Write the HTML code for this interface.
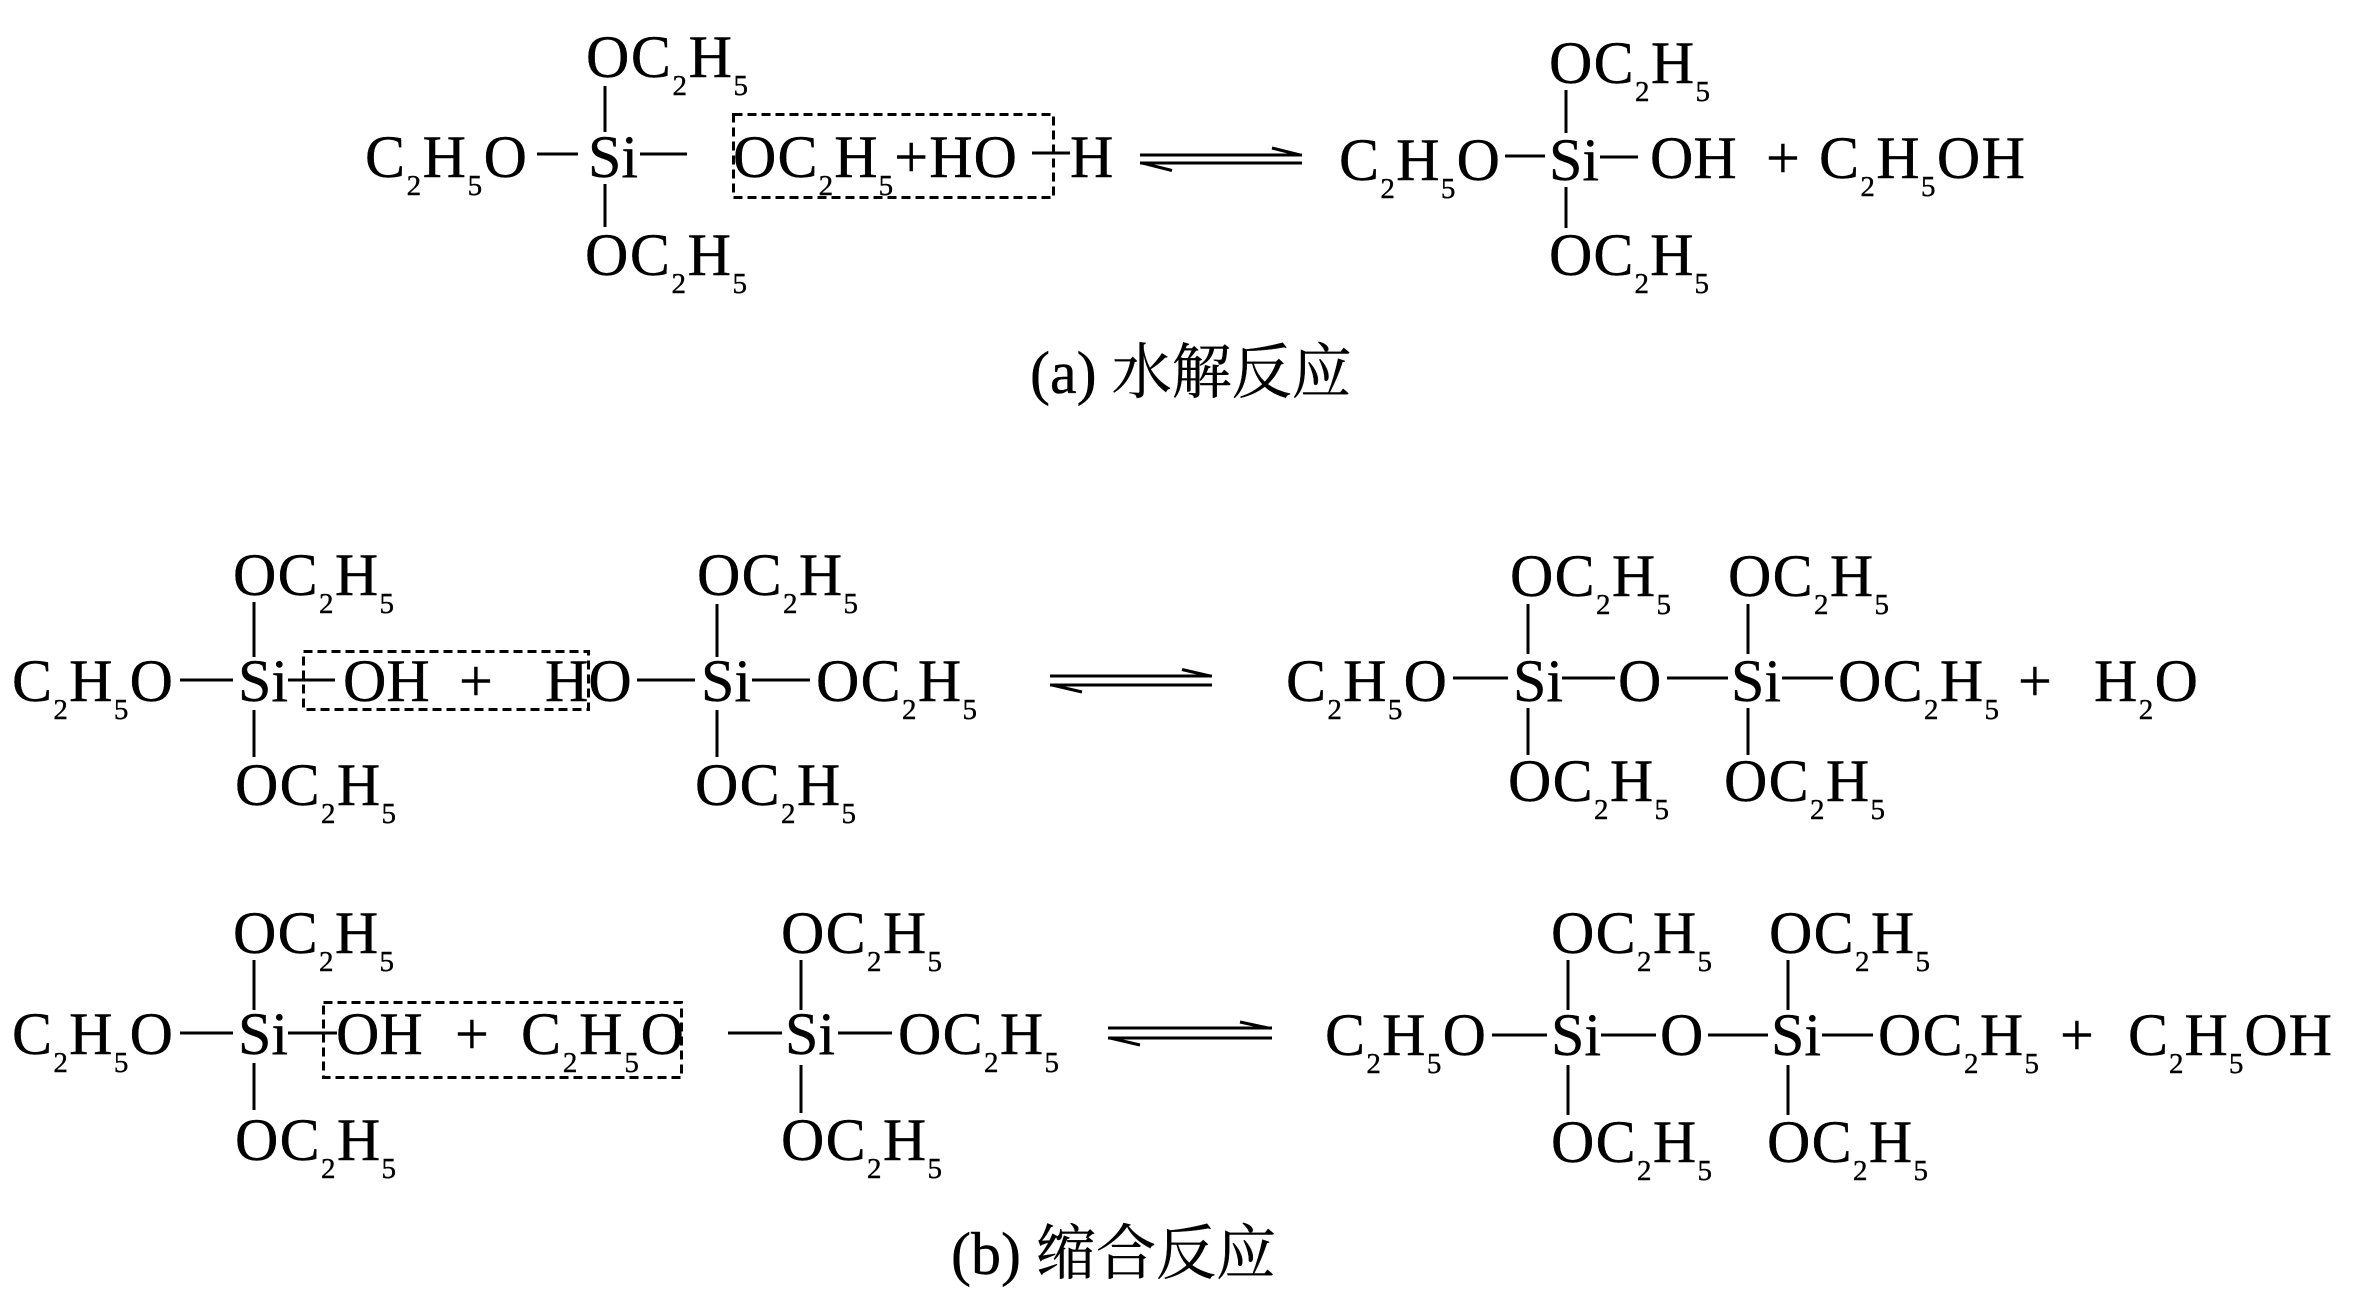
<!DOCTYPE html>
<html>
<head>
<meta charset="utf-8">
<style>
  html,body{margin:0;padding:0;background:#fff;}
  svg{display:block;}
  text{font-family:"Liberation Serif","Times New Roman",serif;font-size:60px;fill:#000;stroke:#000;stroke-width:0.4;}
  .s{font-size:29px;}
  .cap{font-family:"Liberation Serif","Noto Serif CJK SC","Noto Sans CJK SC",serif;font-size:60px;}
  .ln{stroke:#000;stroke-width:3;fill:none;}
  .box{stroke:#000;stroke-width:3;fill:none;stroke-dasharray:9 5;}
</style>
</head>
<body>
<svg width="2363" height="1299" viewBox="0 0 2363 1299" xmlns="http://www.w3.org/2000/svg">
<rect x="0" y="0" width="2363" height="1299" fill="#fff"/>

<!-- ================= (a) Hydrolysis ================= -->
<text x="586" y="77" textLength="162">OC<tspan class="s" dy="18">2</tspan><tspan dy="-18">H</tspan><tspan class="s" dy="18">5</tspan></text>
<path class="ln" d="M605 86V132"/>
<text x="365" y="177" textLength="162">C<tspan class="s" dy="18">2</tspan><tspan dy="-18">H</tspan><tspan class="s" dy="18">5</tspan><tspan dy="-18">O</tspan></text>
<path class="ln" d="M537 154H578"/>
<text x="588" y="177">Si</text>
<path class="ln" d="M640 154H687"/>
<path class="ln" d="M605 184V227"/>
<text x="585" y="275" textLength="162">OC<tspan class="s" dy="18">2</tspan><tspan dy="-18">H</tspan><tspan class="s" dy="18">5</tspan></text>
<rect class="box" x="733.5" y="114.5" width="320" height="83"/>
<text x="733" y="177" textLength="284">OC<tspan class="s" dy="18">2</tspan><tspan dy="-18">H</tspan><tspan class="s" dy="18">5</tspan><tspan dy="-18">+HO</tspan></text>
<path class="ln" d="M1032 153H1070"/>
<text x="1070" y="177">H</text>

<path class="ln" d="M1140 155H1302M1140 163H1302"/>
<path class="ln" stroke-width="3" d="M1272 148L1300 155M1142 163L1172 170.5"/>

<text x="1549" y="83" textLength="161">OC<tspan class="s" dy="18">2</tspan><tspan dy="-18">H</tspan><tspan class="s" dy="18">5</tspan></text>
<path class="ln" d="M1566 90V133"/>
<text x="1339" y="180" textLength="161">C<tspan class="s" dy="18">2</tspan><tspan dy="-18">H</tspan><tspan class="s" dy="18">5</tspan><tspan dy="-18">O</tspan></text>
<path class="ln" d="M1505 156H1545"/>
<text x="1549" y="180">Si</text>
<path class="ln" d="M1600 157H1638"/>
<text x="1650" y="178">OH</text>
<path class="ln" d="M1566 187V228"/>
<text x="1549" y="275" textLength="160">OC<tspan class="s" dy="18">2</tspan><tspan dy="-18">H</tspan><tspan class="s" dy="18">5</tspan></text>
<text x="1766" y="178">+</text>
<text x="1819" y="178" textLength="206">C<tspan class="s" dy="18">2</tspan><tspan dy="-18">H</tspan><tspan class="s" dy="18">5</tspan><tspan dy="-18">OH</tspan></text>

<text class="cap" x="1030" y="393">(a) 水解反应</text>

<!-- ================= (b) row 1 ================= -->
<text x="12" y="701" textLength="161">C<tspan class="s" dy="18">2</tspan><tspan dy="-18">H</tspan><tspan class="s" dy="18">5</tspan><tspan dy="-18">O</tspan></text>
<path class="ln" d="M180 680H233"/>
<text x="238" y="701">Si</text>
<path class="ln" d="M254 602V657M254 710V757"/>
<text x="233" y="595" textLength="161">OC<tspan class="s" dy="18">2</tspan><tspan dy="-18">H</tspan><tspan class="s" dy="18">5</tspan></text>
<text x="235" y="805" textLength="161">OC<tspan class="s" dy="18">2</tspan><tspan dy="-18">H</tspan><tspan class="s" dy="18">5</tspan></text>
<rect class="box" x="303.5" y="651.5" width="285" height="58"/>
<path class="ln" d="M288 680H335"/>
<text x="343" y="701">OH</text>
<text x="459" y="701">+</text>
<text x="545" y="701">HO</text>
<path class="ln" d="M637 680H695"/>
<text x="701" y="701">Si</text>
<path class="ln" d="M717 604V657M717 710V757"/>
<path class="ln" d="M752 680H810"/>
<text x="816" y="701" textLength="161">OC<tspan class="s" dy="18">2</tspan><tspan dy="-18">H</tspan><tspan class="s" dy="18">5</tspan></text>
<text x="697" y="595" textLength="161">OC<tspan class="s" dy="18">2</tspan><tspan dy="-18">H</tspan><tspan class="s" dy="18">5</tspan></text>
<text x="695" y="805" textLength="161">OC<tspan class="s" dy="18">2</tspan><tspan dy="-18">H</tspan><tspan class="s" dy="18">5</tspan></text>

<path class="ln" d="M1050 676H1212M1050 685H1212"/>
<path class="ln" stroke-width="3" d="M1182 669.5L1210 676M1052 685L1082 692"/>

<text x="1286" y="701" textLength="161">C<tspan class="s" dy="18">2</tspan><tspan dy="-18">H</tspan><tspan class="s" dy="18">5</tspan><tspan dy="-18">O</tspan></text>
<path class="ln" d="M1453 678H1508"/>
<text x="1513" y="701">Si</text>
<path class="ln" d="M1528 604V654M1528 708V755"/>
<text x="1510" y="596" textLength="161">OC<tspan class="s" dy="18">2</tspan><tspan dy="-18">H</tspan><tspan class="s" dy="18">5</tspan></text>
<text x="1508" y="801" textLength="161">OC<tspan class="s" dy="18">2</tspan><tspan dy="-18">H</tspan><tspan class="s" dy="18">5</tspan></text>
<path class="ln" d="M1562 678H1615"/>
<text x="1618" y="701">O</text>
<path class="ln" d="M1667 678H1728"/>
<text x="1731" y="701">Si</text>
<path class="ln" d="M1748 604V654M1748 708V755"/>
<path class="ln" d="M1782 678H1833"/>
<text x="1838" y="701" textLength="161">OC<tspan class="s" dy="18">2</tspan><tspan dy="-18">H</tspan><tspan class="s" dy="18">5</tspan></text>
<text x="1728" y="596" textLength="161">OC<tspan class="s" dy="18">2</tspan><tspan dy="-18">H</tspan><tspan class="s" dy="18">5</tspan></text>
<text x="1724" y="801" textLength="161">OC<tspan class="s" dy="18">2</tspan><tspan dy="-18">H</tspan><tspan class="s" dy="18">5</tspan></text>
<text x="2018" y="701">+</text>
<text x="2094" y="701" textLength="104">H<tspan class="s" dy="18">2</tspan><tspan dy="-18">O</tspan></text>

<!-- ================= (b) row 2 ================= -->
<text x="12" y="1054" textLength="161">C<tspan class="s" dy="18">2</tspan><tspan dy="-18">H</tspan><tspan class="s" dy="18">5</tspan><tspan dy="-18">O</tspan></text>
<path class="ln" d="M180 1033H233"/>
<text x="238" y="1054">Si</text>
<path class="ln" d="M254 960V1010M254 1063V1110"/>
<text x="233" y="953" textLength="161">OC<tspan class="s" dy="18">2</tspan><tspan dy="-18">H</tspan><tspan class="s" dy="18">5</tspan></text>
<text x="235" y="1160" textLength="161">OC<tspan class="s" dy="18">2</tspan><tspan dy="-18">H</tspan><tspan class="s" dy="18">5</tspan></text>
<path class="ln" d="M288 1033H337"/>
<rect class="box" x="323.5" y="1002.5" width="358" height="75"/>
<text x="336" y="1054">OH</text>
<text x="455" y="1054">+</text>
<text x="521" y="1054" textLength="163">C<tspan class="s" dy="18">2</tspan><tspan dy="-18">H</tspan><tspan class="s" dy="18">5</tspan><tspan dy="-18">O</tspan></text>
<path class="ln" d="M728 1033H782"/>
<text x="785" y="1054">Si</text>
<path class="ln" d="M801 960V1010M801 1065V1113"/>
<path class="ln" d="M838 1033H892"/>
<text x="898" y="1054" textLength="161">OC<tspan class="s" dy="18">2</tspan><tspan dy="-18">H</tspan><tspan class="s" dy="18">5</tspan></text>
<text x="781" y="953" textLength="161">OC<tspan class="s" dy="18">2</tspan><tspan dy="-18">H</tspan><tspan class="s" dy="18">5</tspan></text>
<text x="781" y="1160" textLength="161">OC<tspan class="s" dy="18">2</tspan><tspan dy="-18">H</tspan><tspan class="s" dy="18">5</tspan></text>

<path class="ln" d="M1108 1028H1272M1108 1038H1272"/>
<path class="ln" stroke-width="3" d="M1240 1022L1268 1028M1110 1038L1140 1045"/>

<text x="1325" y="1055" textLength="161">C<tspan class="s" dy="18">2</tspan><tspan dy="-18">H</tspan><tspan class="s" dy="18">5</tspan><tspan dy="-18">O</tspan></text>
<path class="ln" d="M1492 1035H1547"/>
<text x="1551" y="1055">Si</text>
<path class="ln" d="M1568 960V1010M1568 1065V1115"/>
<text x="1551" y="953" textLength="161">OC<tspan class="s" dy="18">2</tspan><tspan dy="-18">H</tspan><tspan class="s" dy="18">5</tspan></text>
<text x="1551" y="1162" textLength="161">OC<tspan class="s" dy="18">2</tspan><tspan dy="-18">H</tspan><tspan class="s" dy="18">5</tspan></text>
<path class="ln" d="M1601 1035H1656"/>
<text x="1660" y="1055">O</text>
<path class="ln" d="M1708 1035H1768"/>
<text x="1771" y="1055">Si</text>
<path class="ln" d="M1788 960V1010M1788 1065V1115"/>
<path class="ln" d="M1822 1035H1873"/>
<text x="1878" y="1055" textLength="161">OC<tspan class="s" dy="18">2</tspan><tspan dy="-18">H</tspan><tspan class="s" dy="18">5</tspan></text>
<text x="1769" y="953" textLength="161">OC<tspan class="s" dy="18">2</tspan><tspan dy="-18">H</tspan><tspan class="s" dy="18">5</tspan></text>
<text x="1767" y="1162" textLength="161">OC<tspan class="s" dy="18">2</tspan><tspan dy="-18">H</tspan><tspan class="s" dy="18">5</tspan></text>
<text x="2060" y="1055">+</text>
<text x="2128" y="1055" textLength="204">C<tspan class="s" dy="18">2</tspan><tspan dy="-18">H</tspan><tspan class="s" dy="18">5</tspan><tspan dy="-18">OH</tspan></text>

<text class="cap" x="951" y="1274">(b) 缩合反应</text>
</svg>
</body>
</html>
